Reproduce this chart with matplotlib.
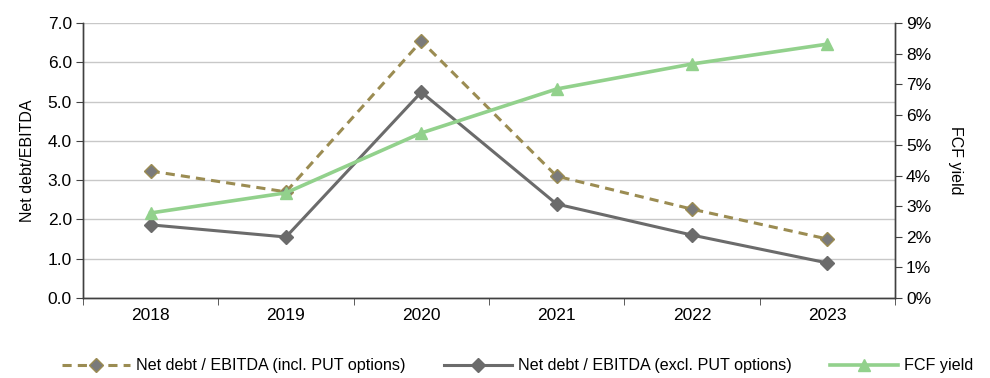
import matplotlib.pyplot as plt
from matplotlib.ticker import FuncFormatter, FixedLocator

plt.rcParams['font.family'] = ['Liberation Sans', 'DejaVu Sans']

years = ['2018', '2019', '2020', '2021', '2022', '2023']
nd_incl_put = [3.23, 2.70, 6.54, 3.10, 2.26, 1.50]
nd_excl_put = [1.86, 1.55, 5.24, 2.39, 1.60, 0.89]
fcf_yield = [2.78, 3.44, 5.40, 6.84, 7.66, 8.31]

fig = plt.figure(figsize=(9.9, 3.78), dpi=100)
ax = fig.add_axes([0.0838, 0.212, 0.8202, 0.727])
ax2 = ax.twinx()

x = list(range(len(years)))
axis_col = '#404040'
tick_fs = 12.5

ax.set_ylim(0, 7)
ax.set_yticks([i for i in range(8)])
ax.yaxis.set_major_formatter(FuncFormatter(lambda v, p: f'{v:.1f}'))
ax.grid(axis='y', color='#c8c8c8', linewidth=1)
ax.set_axisbelow(True)
ax.set_xlim(-0.5, 5.5)
ax.set_xticks(x)
ax.set_xticklabels(years)
ax.xaxis.set_minor_locator(FixedLocator([i - 0.5 for i in range(7)]))
ax.tick_params(axis='x', which='major', length=0, pad=7, labelsize=tick_fs)
ax.tick_params(axis='x', which='minor', length=5, color=axis_col)
ax.tick_params(axis='y', length=5, color=axis_col, labelsize=tick_fs, pad=3)
ax.set_ylabel('Net debt/EBITDA', fontsize=11.5, labelpad=9)

ax2.set_ylim(0, 9)
ax2.set_yticks(range(10))
ax2.yaxis.set_major_formatter(FuncFormatter(lambda v, p: f'{v:.0f}%'))
ax2.tick_params(axis='y', length=5, color=axis_col, labelsize=tick_fs, pad=3)
ax2.set_ylabel('FCF yield', fontsize=11.5, rotation=270, labelpad=23)

for a in (ax, ax2):
    a.spines['top'].set_visible(False)
    for s in ('left', 'right', 'bottom'):
        a.spines[s].set_color(axis_col)
        a.spines[s].set_linewidth(1)

l1, = ax.plot(x, nd_incl_put, color='#9b8c52', linestyle='--', linewidth=2.2,
              dashes=(3, 2), marker='D', markersize=7, markerfacecolor='#7a7a7a',
              markeredgecolor='#9b8c52', markeredgewidth=1,
              label='Net debt / EBITDA (incl. PUT options)', zorder=3)
l2, = ax.plot(x, nd_excl_put, color='#6b6b6b', linewidth=2.2, marker='D',
              markersize=7, label='Net debt / EBITDA (excl. PUT options)', zorder=3)
l3, = ax2.plot(x, fcf_yield, color='#92d18c', linewidth=2.6, marker='^',
               markersize=9, label='FCF yield', zorder=3)

fig.legend(handles=[l1, l2, l3], loc='center left', bbox_to_anchor=(0.048, 0.032),
           ncol=3, frameon=False, fontsize=11.6, columnspacing=2.35,
           handlelength=4.25, handletextpad=0.37)

fig.savefig('out.png', dpi=100)
